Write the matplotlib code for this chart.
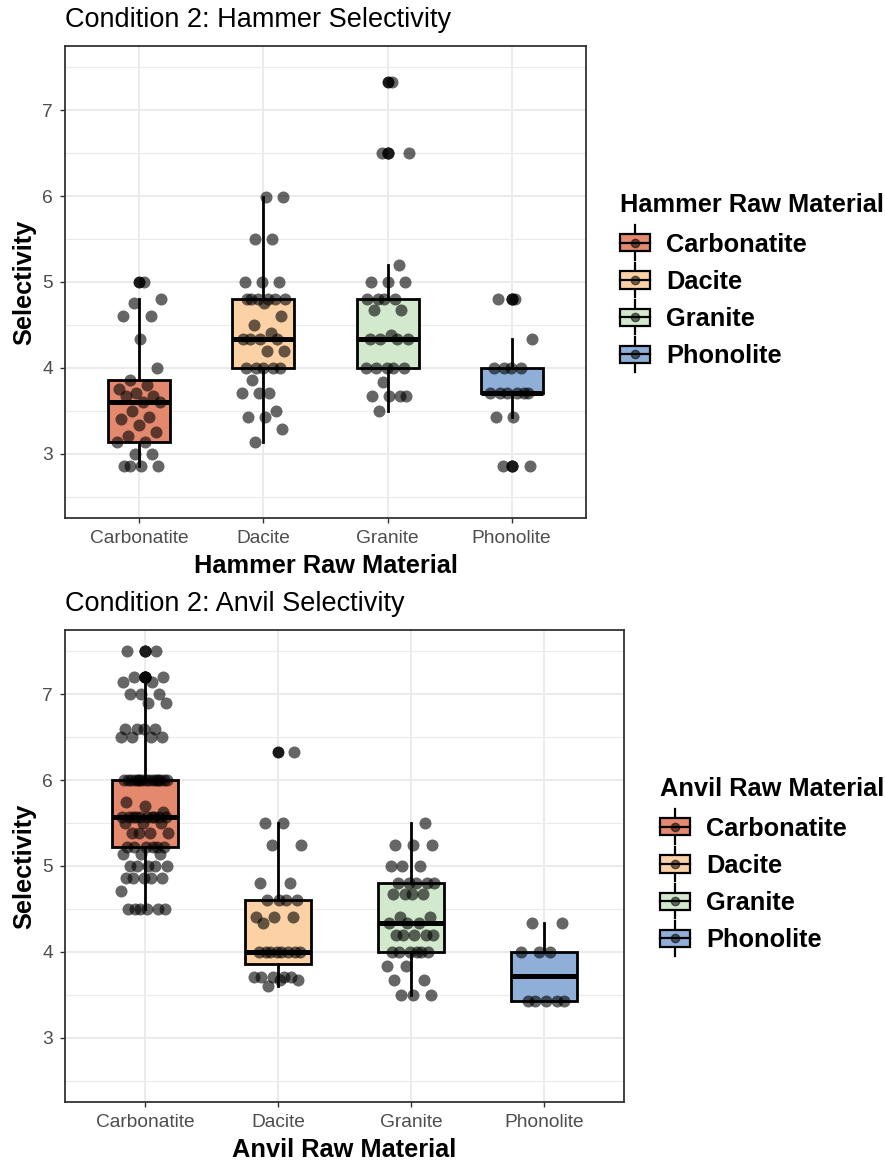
import numpy as np
import matplotlib.pyplot as plt
from matplotlib.legend_handler import HandlerBase
from matplotlib.patches import Patch, Rectangle
from matplotlib.lines import Line2D

plt.rcParams['font.family'] = ['Liberation Sans', 'DejaVu Sans']

materials = ['Carbonatite', 'Dacite', 'Granite', 'Phonolite']
fills = ['#E4886E', '#FCD1A6', '#D3E9CE', '#8FAFD8']

# Condition 2 selectivity, by hammer raw material
hammer_carbonatite = [2.86, 2.86, 2.86, 2.86, 3.0, 3.0, 3.14, 3.14, 3.2, 3.25, 3.33, 3.4,
                      3.43, 3.5, 3.6, 3.6, 3.67, 3.67, 3.71, 3.75, 3.8, 3.86, 4.0, 4.33,
                      4.6, 4.6, 4.75, 4.8, 5.0]
hammer_dacite = [3.14, 3.29, 3.43, 3.43, 3.5, 3.71, 3.71, 3.71, 3.86, 4.0, 4.0, 4.0, 4.0, 4.0,
                 4.2, 4.2, 4.33, 4.33, 4.33, 4.33, 4.4, 4.5, 4.6, 4.75, 4.8, 4.8, 4.8, 4.8,
                 4.8, 4.8, 5.0, 5.0, 5.0, 5.5, 5.5, 5.99, 5.99]
hammer_granite = [3.5, 3.67, 3.67, 3.67, 3.67, 3.83, 4.0, 4.0, 4.0, 4.0, 4.0, 4.33, 4.33,
                  4.33, 4.33, 4.38, 4.67, 4.67, 4.8, 4.8, 4.8, 4.8, 5.0, 5.0, 5.0, 5.2,
                  6.5, 6.5, 7.33]
hammer_phonolite = [2.86, 2.86, 3.43, 3.43, 3.71, 3.71, 3.71, 3.71, 3.71, 3.71, 4.0, 4.0,
                    4.0, 4.0, 4.33, 4.8, 4.8]

# Condition 2 selectivity, by anvil raw material
anvil_carbonatite = ([4.5] * 6 + [4.71] + [4.86] * 5 + [5.0] * 5 + [5.14] * 3 + [5.22] * 6
                     + [5.38] * 4 + [5.5] * 3 + [5.57] * 10 + [5.63, 5.7, 5.75] + [6.0] * 15
                     + [6.5] * 4 + [6.6] * 4 + [6.9] * 2 + [7.0] * 3 + [7.14] * 2 + [7.2] * 3
                     + [7.5] * 2)
anvil_dacite = ([3.6] + [3.67] * 2 + [3.71] * 5 + [4.0] * 8 + [4.33] + [4.4] * 3 + [4.6] * 4
                + [4.8] * 2 + [5.25] * 2 + [5.5] * 2 + [6.33])
anvil_granite = ([3.5] * 3 + [3.67] * 2 + [3.83] * 2 + [4.0] * 6 + [4.2] * 5 + [4.33] * 3
                 + [4.4] * 2 + [4.67] * 4 + [4.8] * 5 + [5.0] * 3 + [5.25] * 3 + [5.5])
anvil_phonolite = [3.43] * 5 + [4.0] * 3 + [4.33] * 2

hammer = [hammer_carbonatite, hammer_dacite, hammer_granite, hammer_phonolite]
anvil = [anvil_carbonatite, anvil_dacite, anvil_granite, anvil_phonolite]


class BoxKey(HandlerBase):
    # small boxplot glyph with a point in the middle, like the ggplot key
    def create_artists(self, legend, orig_handle, xdescent, ydescent, width, height,
                       fontsize, trans):
        x0, y0 = -xdescent, -ydescent
        cx, cy = x0 + width / 2, y0 + height / 2
        lo = Line2D([cx, cx], [y0 - 0.5 * height, y0], color='black', lw=1.6, transform=trans)
        hi = Line2D([cx, cx], [y0 + height, y0 + 1.5 * height], color='black', lw=1.6,
                    transform=trans)
        box = Rectangle((x0, y0), width, height, facecolor=orig_handle.get_facecolor(),
                        edgecolor='black', lw=1.6, transform=trans)
        med = Line2D([x0, x0 + width], [cy, cy], color='black', lw=1.6, transform=trans)
        dot = Line2D([cx], [cy], marker='o', ms=6, color='black', alpha=0.55, ls='',
                     transform=trans)
        return [lo, hi, box, med, dot]


def panel(ax, groups):
    pos = np.arange(1, len(groups) + 1)
    bp = ax.boxplot(groups, positions=pos, widths=0.5, patch_artist=True, showcaps=False,
                    boxprops=dict(edgecolor='black', linewidth=2.0),
                    whiskerprops=dict(color='black', linewidth=2.0),
                    medianprops=dict(color='black', linewidth=3.6),
                    flierprops=dict(marker='o', markerfacecolor='#1a1a1a',
                                    markeredgecolor='none', markersize=8.6),
                    zorder=2)
    for patch, c in zip(bp['boxes'], fills):
        patch.set_facecolor(c)
    for p, vals in zip(pos, groups):
        n = len(vals)
        jit = ((np.arange(n) * 0.618034 + 0.3) % 1 - 0.5) * 0.36
        ax.scatter(p + jit, vals, s=75, color='black', alpha=0.6, linewidths=0, zorder=3)

    ax.set_xlim(0.4, 4.6)
    ax.set_ylim(2.25, 7.75)
    ax.set_xticks(pos)
    ax.set_xticklabels(materials)
    ax.set_yticks([3, 4, 5, 6, 7])
    ax.set_yticks(np.arange(2.5, 8.0, 1.0), minor=True)
    ax.grid(True, which='major', color='#EBEBEB', lw=1.4, zorder=0)
    ax.grid(True, which='minor', axis='y', color='#EBEBEB', lw=0.8, zorder=0)
    ax.set_axisbelow(True)
    ax.tick_params(which='major', length=3.6, width=1.0, color='#333333',
                   labelcolor='#4D4D4D', labelsize=13.8)
    ax.tick_params(axis='x', pad=5)
    ax.tick_params(axis='y', pad=5)
    ax.tick_params(which='minor', length=0)
    for s in ax.spines.values():
        s.set_color('#333333')
        s.set_linewidth(1.3)


W, H = 885, 1161
fig = plt.figure(figsize=(W / 100, H / 100), dpi=100)
ax1 = fig.add_axes([65 / W, 1 - 518 / H, 521 / W, 472 / H])
ax2 = fig.add_axes([65 / W, 1 - 1102 / H, 559 / W, 472 / H])

panel(ax1, hammer)
panel(ax2, anvil)

for ax, xl in [(ax1, 'Hammer Raw Material'), (ax2, 'Anvil Raw Material')]:
    ax.set_xlabel(xl, fontsize=18.3, fontweight='bold', labelpad=5)
    ax.set_ylabel('Selectivity', fontsize=18.3, fontweight='bold', labelpad=4)

fig.text(65 / W, 1 - 27 / H, 'Condition 2: Hammer Selectivity', fontsize=19.5, va='baseline')
fig.text(65 / W, 1 - 611 / H, 'Condition 2: Anvil Selectivity', fontsize=19.5, va='baseline')

handles = [Patch(facecolor=c) for c in fills]
for ax, title, left, title_y, mid_y in [(ax1, 'Hammer Raw Material', 620, 212, 300.5),
                                         (ax2, 'Anvil Raw Material', 660, 796, 884.5)]:
    fig.text(left / W, 1 - title_y / H, title, fontsize=18.3, fontweight='bold',
             va='baseline')
    ax.legend(handles, materials, handler_map={Patch: BoxKey()}, loc='center left',
              bbox_to_anchor=(left / W, 1 - mid_y / H), bbox_transform=fig.transFigure,
              frameon=False, prop=dict(weight='bold', size=18.3), handlelength=1.18,
              handleheight=0.67, handletextpad=0.63, labelspacing=0.52, borderpad=0,
              borderaxespad=0)

fig.savefig('out.png', dpi=100)
